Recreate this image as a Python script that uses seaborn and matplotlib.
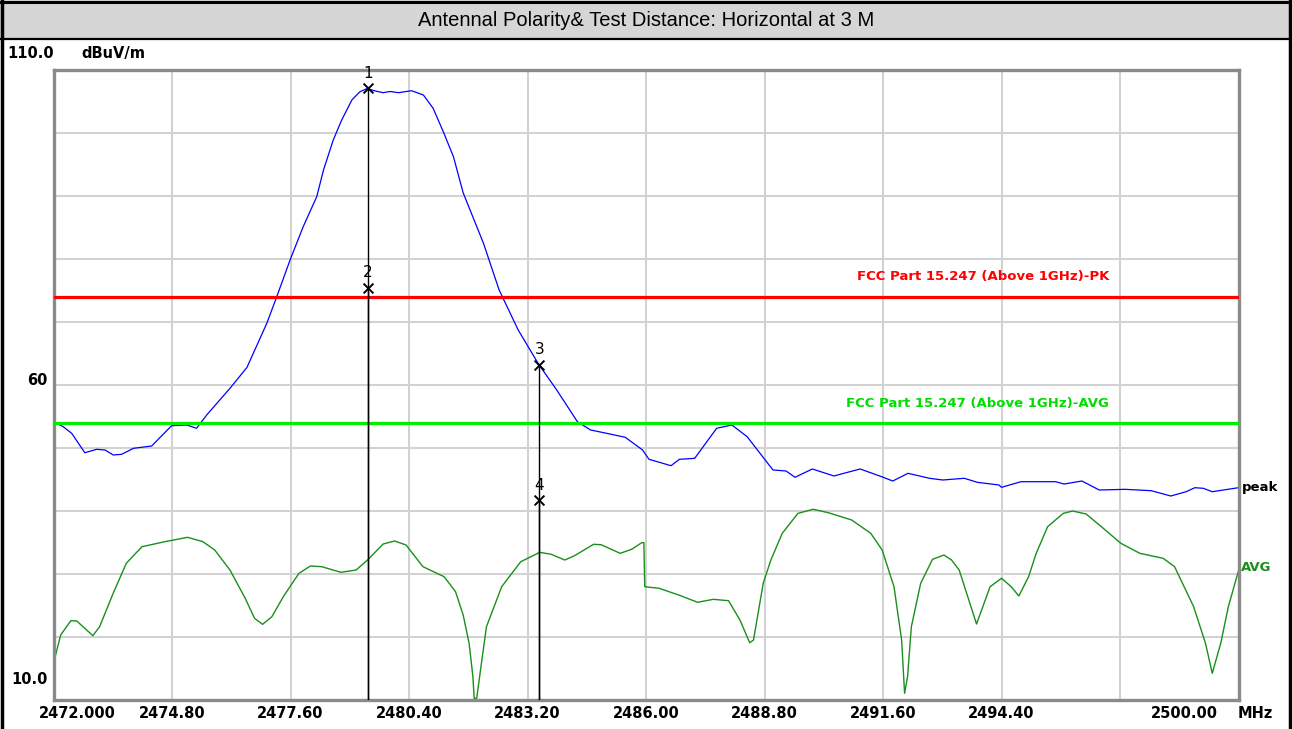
import numpy as np
import matplotlib
matplotlib.use("Agg")
import matplotlib.pyplot as plt
from matplotlib.lines import Line2D
from matplotlib.patches import Rectangle
import seaborn as sns
import pandas as pd

# peak trace (MHz, dBuV/m)
peak_freq = [2472.02, 2472.23, 2472.43, 2472.74, 2473.02, 2473.22, 2473.41, 2473.61, 2473.89, 2474.32,
             2474.79, 2475.15, 2475.38, 2475.62, 2476.17, 2476.57, 2477.04, 2477.27, 2477.59, 2477.90,
             2478.22, 2478.38, 2478.61, 2478.81, 2479.05, 2479.24, 2479.41, 2479.60, 2479.79, 2479.95,
             2480.15, 2480.46, 2480.74, 2480.97, 2481.21, 2481.45, 2481.68, 2482.16, 2482.53, 2482.98,
             2483.46, 2483.89, 2484.38, 2484.69, 2485.00, 2485.51, 2485.92, 2486.07, 2486.59, 2486.79,
             2487.15, 2487.67, 2488.03, 2488.39, 2489.00, 2489.31, 2489.52, 2489.93, 2490.44, 2491.06,
             2491.57, 2491.83, 2492.19, 2492.70, 2493.01, 2493.52, 2493.83, 2494.34, 2494.40, 2494.86,
             2495.68, 2495.88, 2496.30, 2496.71, 2497.32, 2497.94, 2498.40, 2498.76, 2498.97, 2499.17,
             2499.38, 2500.00]
peak_level = [54.08, 53.38, 52.33, 49.25, 49.79, 49.68, 48.89, 49.00, 49.95, 50.32,
              53.54, 53.65, 53.13, 55.24, 59.48, 62.78, 69.79, 73.92, 79.84, 85.13,
              89.89, 94.13, 98.89, 102.06, 105.24, 106.55, 107.06, 106.67, 106.40, 106.59,
              106.40, 106.71, 106.03, 103.92, 100.21, 96.24, 90.50, 82.49, 75.08, 68.73,
              63.33, 59.21, 54.17, 52.86, 52.43, 51.70, 49.68, 48.21, 47.19, 48.21,
              48.36, 53.13, 53.65, 51.79, 46.51, 46.35, 45.35, 46.67, 45.56, 46.67,
              45.44, 44.76, 45.98, 45.19, 44.92, 45.19, 44.55, 44.13, 43.76, 44.65,
              44.65, 44.28, 44.76, 43.33, 43.44, 43.22, 42.38, 43.06, 43.70, 43.60,
              43.06, 43.70]

# average trace
avg_freq = [2472.03, 2472.17, 2472.41, 2472.55, 2472.93, 2473.09, 2473.41, 2473.72, 2474.09, 2474.63,
            2475.17, 2475.53, 2475.81, 2476.17, 2476.53, 2476.75, 2476.94, 2477.16, 2477.43, 2477.80,
            2478.07, 2478.34, 2478.79, 2479.15, 2479.42, 2479.79, 2480.06, 2480.33, 2480.73, 2481.23,
            2481.50, 2481.68, 2481.82, 2481.91, 2481.94, 2482.00, 2482.09, 2482.23, 2482.59, 2483.04,
            2483.49, 2483.76, 2484.08, 2484.31, 2484.76, 2484.94, 2485.39, 2485.66, 2485.90, 2485.95,
            2485.97, 2486.31, 2486.77, 2487.22, 2487.59, 2487.95, 2488.22, 2488.45, 2488.54, 2488.77,
            2488.95, 2489.22, 2489.59, 2489.95, 2490.31, 2490.86, 2491.31, 2491.58, 2491.86, 2492.04,
            2492.11, 2492.18, 2492.27, 2492.49, 2492.77, 2493.04, 2493.22, 2493.40, 2493.81, 2494.13,
            2494.40, 2494.63, 2494.81, 2495.04, 2495.22, 2495.49, 2495.86, 2496.08, 2496.40, 2496.76,
            2497.22, 2497.67, 2498.22, 2498.49, 2498.94, 2499.22, 2499.38, 2499.58, 2499.76, 2500.00]
avg_level = [16.62, 20.32, 22.59, 22.54, 20.21, 21.63, 26.94, 31.70, 34.33, 35.13,
             35.82, 35.13, 33.81, 30.63, 26.14, 22.97, 22.01, 23.22, 26.40, 30.11,
             31.27, 31.16, 30.27, 30.63, 32.22, 34.76, 35.24, 34.60, 31.16, 29.57,
             27.19, 23.49, 19.00, 13.70, 10.27, 10.27, 14.76, 21.63, 27.98, 31.95,
             33.44, 33.13, 32.22, 32.90, 34.71, 34.65, 33.28, 33.92, 34.97, 34.97,
             27.98, 27.73, 26.67, 25.51, 25.98, 25.76, 22.70, 19.09, 19.52, 28.52,
             32.22, 36.46, 39.63, 40.27, 39.73, 38.57, 36.46, 33.81, 27.98, 19.52,
             11.06, 13.70, 21.63, 28.52, 32.33, 33.01, 32.22, 30.63, 22.06, 27.98,
             29.32, 27.98, 26.51, 29.57, 33.28, 37.51, 39.63, 40.00, 39.52, 37.51,
             34.87, 33.28, 32.49, 31.16, 24.81, 19.00, 14.24, 19.00, 24.81, 30.52]

# limit lines
limit_pk = 74.0
limit_avg = 54.0

# markers
marker_no = ["1", "2", "3", "4"]
marker_freq = [2479.43, 2479.43, 2483.48, 2483.48]
marker_level = [107.1, 75.4, 63.2, 41.7]

# axis labels
x_ticks = [2472.0, 2474.8, 2477.6, 2480.4, 2483.2, 2486.0, 2488.8, 2491.6, 2494.4, 2497.2, 2500.0]
x_labels = ["2472.000", "2474.80", "2477.60", "2480.40", "2483.20", "2486.00",
            "2488.80", "2491.60", "2494.40", "", "2500.00"]
y_grid = list(range(10, 111, 10))

W, H = 1292, 729
px = 72 / 100  # pixels -> points

sns.set_style("white")
plt.rcParams["font.family"] = ["DejaVu Sans"]
plt.rcParams["text.color"] = "black"

fig = plt.figure(figsize=(W / 100, H / 100), dpi=100)
fig.patch.set_facecolor("white")

# title bar and outer frame
fig.add_artist(Rectangle((0, 1 - 39 / H), 1, 39 / H, transform=fig.transFigure,
                         facecolor="#d6d6d6", edgecolor="none", zorder=0))
fig.add_artist(Line2D([0, 1], [1 - 39 / H, 1 - 39 / H], transform=fig.transFigure, color="black", lw=1.6))
fig.add_artist(Line2D([0, 1], [1 - 1.5 / H, 1 - 1.5 / H], transform=fig.transFigure, color="black", lw=2.2))
fig.add_artist(Line2D([2 / W, 2 / W], [0, 1], transform=fig.transFigure, color="black", lw=2.5))
fig.add_artist(Line2D([1 - 2 / W, 1 - 2 / W], [0, 1], transform=fig.transFigure, color="black", lw=2.5))
fig.text(0.5, 1 - 21 / H, "Antennal Polarity& Test Distance: Horizontal at 3 M",
         ha="center", va="center", fontsize=14.5, color="black",
         family=["Liberation Sans", "DejaVu Sans"])

ax = fig.add_axes([53.5 / W, 1 - 700 / H, 1185 / W, 630 / H])
ax.set_xlim(2472, 2500)
ax.set_ylim(10, 110)
ax.set_xticks(x_ticks)
ax.set_yticks(y_grid)
ax.set_xticklabels([])
ax.set_yticklabels([])
ax.tick_params(length=0)
ax.grid(True, color="#d2d2d2", lw=1.5)
ax.set_axisbelow(True)
for s in ax.spines.values():
    s.set_color("#8a8a8a")
    s.set_linewidth(2.4)

peak = pd.DataFrame({"freq": peak_freq, "level": peak_level})
avg = pd.DataFrame({"freq": avg_freq, "level": avg_level})
sns.lineplot(data=peak, x="freq", y="level", color="#0000ff", lw=0.9, ax=ax, sort=False)
sns.lineplot(data=avg, x="freq", y="level", color="#1a8f1a", lw=1.0, ax=ax, sort=False)
ax.set_xlabel("")
ax.set_ylabel("")

ax.axhline(limit_pk, color="#ff0000", lw=2.3, zorder=3)
ax.axhline(limit_avg, color="#00ee00", lw=2.3, zorder=3)

bold = dict(fontweight="bold", fontsize=9.5)
ax.annotate("FCC Part 15.247 (Above 1GHz)-PK", xy=(2493.96, limit_pk), xytext=(0, 20 * px),
            textcoords="offset points", ha="center", va="center", color="#ff0000", **bold)
ax.annotate("FCC Part 15.247 (Above 1GHz)-AVG", xy=(2493.82, limit_avg), xytext=(0, 19 * px),
            textcoords="offset points", ha="center", va="center", color="#00dd00", **bold)

# markers with drop lines
ax.vlines(marker_freq, 10, marker_level, color="black", lw=1.0, zorder=4)
sns.scatterplot(x=marker_freq, y=marker_level, marker="x", color="black", s=50,
                linewidth=1.4, ax=ax, zorder=5)
for n, f, v in zip(marker_no, marker_freq, marker_level):
    ax.annotate(n, xy=(f, v), xytext=(0, 15 * px), textcoords="offset points",
                ha="center", va="center", fontsize=11, color="black")

# trace names at right edge
ax.annotate("peak", xy=(1, peak_level[-1]), xycoords=("axes fraction", "data"),
            xytext=(3 * px, 0), textcoords="offset points", ha="left", va="center",
            color="black", **bold)
ax.annotate("AVG", xy=(1, avg_level[-1]), xycoords=("axes fraction", "data"),
            xytext=(2 * px, 3 * px), textcoords="offset points", ha="left", va="center",
            color="#1a8f1a", **bold)

# x tick labels
tick_font = dict(fontweight="bold", fontsize=10.5, color="black")
for t, lab in zip(x_ticks, x_labels):
    dx = 0
    if t == x_ticks[0]:
        dx = 24
    elif t == x_ticks[-1]:
        dx = -54
    ax.annotate(lab, xy=(t, 0), xycoords=("data", "axes fraction"),
                xytext=(dx * px, -14 * px), textcoords="offset points",
                ha="center", va="center", **tick_font)
ax.annotate("MHz", xy=(1, 0), xycoords="axes fraction", xytext=(17 * px, -14 * px),
            textcoords="offset points", ha="center", va="center", **tick_font)

# y labels
ax.annotate("110.0", xy=(0, 110), xycoords=("axes fraction", "data"), xytext=(-46 * px, 17 * px),
            textcoords="offset points", ha="left", va="center", **tick_font)
ax.annotate("dBuV/m", xy=(0, 110), xycoords=("axes fraction", "data"), xytext=(28 * px, 17 * px),
            textcoords="offset points", ha="left", va="center", **tick_font)
ax.annotate("60", xy=(0, 60), xycoords=("axes fraction", "data"), xytext=(-6 * px, 5 * px),
            textcoords="offset points", ha="right", va="center", **tick_font)
ax.annotate("10.0", xy=(0, 10), xycoords=("axes fraction", "data"), xytext=(-6 * px, 20 * px),
            textcoords="offset points", ha="right", va="center", **tick_font)

fig.savefig("out.png", dpi=100)
